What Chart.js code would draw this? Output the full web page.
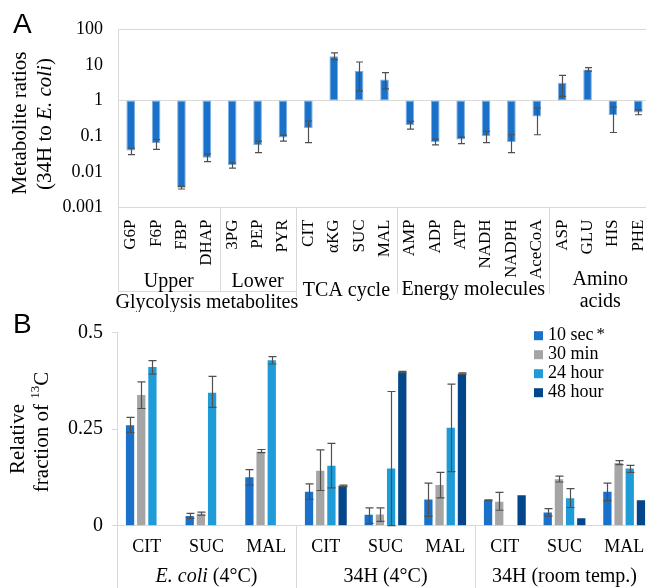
<!DOCTYPE html>
<html><head><meta charset="utf-8">
<script src="https://cdn.jsdelivr.net/npm/chart.js@4"></script>
<style>
html,body{margin:0;padding:0;background:#fff;overflow:hidden;width:646px;height:588px;}
#ca{position:absolute;left:0;top:0;}
#cb{position:absolute;left:0;top:300px;}
</style></head><body>
<canvas id="ca" width="660" height="312"></canvas>
<canvas id="cb" width="660" height="288"></canvas>
<script>
// ---------- Panel A data ----------
const categoriesA = ['G6P','F6P','FBP','DHAP','3PG','PEP','PYR','CIT','αKG','SUC','MAL','AMP','ADP','ATP','NADH','NADPH','AceCoA','ASP','GLU','HIS','PHE'];
const ratiosA   = [0.040, 0.065, 0.0036, 0.025, 0.0155, 0.056, 0.092, 0.17, 17.5, 6.9, 3.9, 0.205, 0.069, 0.081, 0.10, 0.069, 0.36, 3.16, 7.5, 0.39, 0.46];
const errLowA   = [0.0304, 0.043, 0.0033, 0.0193, 0.0128, 0.0347, 0.073, 0.066, 14.1, 1.88, 2.14, 0.159, 0.057, 0.062, 0.066, 0.0347, 0.11, 1.32, 6.7, 0.127, 0.40];
const errHighA  = [0.046, 0.081, 0.0039, 0.032, 0.018, 0.073, 0.107, 0.267, 21.7, 12.1, 6.06, 0.26, 0.083, 0.094, 0.136, 0.11, 0.62, 5.08, 8.4, 0.66, 0.55];
const yTicksA   = [0.001, 0.01, 0.1, 1, 10, 100];
const subGroupsA = [{label:'Upper', from:0, to:3}, {label:'Lower', from:4, to:6}];
const groupsA    = [{label:['Glycolysis metabolites'], from:0, to:6}, {label:['TCA cycle'], from:7, to:10}, {label:['Energy molecules'], from:11, to:16}, {label:['Amino','acids'], from:17, to:20}];

// ---------- Panel B data ----------
const metabolitesB = ['CIT','SUC','MAL'];
const groupsB = ['E. coli (4°C)', '34H (4°C)', '34H (room temp.)'];
const seriesB = ['10 sec', '30 min', '24 hour', '48 hour'];
const yTicksB = [0, 0.25, 0.5];
const sec10  = [0.260, 0.025, 0.125, 0.088, 0.028, 0.068, 0.066, 0.034, 0.088];
const min30  = [0.338, 0.031, 0.191, 0.142, 0.029, 0.105, 0.062, 0.120, 0.162];
const hour24 = [0.410, 0.344, 0.428, 0.155, 0.148, 0.253, null, 0.071, 0.148];
const hour48 = [null, null, null, 0.103, 0.397, 0.393, 0.079, 0.019, 0.066];
const err10  = [[0.241,0.280],[0.019,0.032],[0.105,0.145],[0.068,0.108],[0.006,0.046],[0.024,0.110],[0.065,0.067],[0.025,0.044],[0.065,0.110]];
const err30  = [[0.303,0.372],[0.027,0.035],[0.189,0.197],[0.091,0.196],[0.011,0.046],[0.072,0.138],[0.040,0.086],[0.113,0.128],[0.158,0.168]];
const err24  = [[0.392,0.427],[0.306,0.386],[0.418,0.437],[0.098,0.213],[0,0.347],[0.140,0.366],null,[0.047,0.096],[0.138,0.156]];
const err48  = [null,null,null,[0.101,0.105],[0.395,0.399],[0.391,0.395],null,null,null];

const SERIF = "'Liberation Serif',serif";
const SANS = "'Liberation Sans',sans-serif";
const GRID = '#d9d9d9';
const COLORS = ['#1a71c9', '#a5a5a5', '#1f9cd8', '#03478a'];

function errorBars(sets, cap){
  return {
    id: 'errorBars',
    afterDatasetsDraw(chart){
      const ctx = chart.ctx, y = chart.scales.y;
      ctx.save();
      ctx.strokeStyle = '#505050'; ctx.lineWidth = 1.2;
      chart.data.datasets.forEach((ds, di) => {
        const meta = chart.getDatasetMeta(di);
        meta.data.forEach((bar, i) => {
          const e = sets[di][i];
          if (!e) return;
          const x = Math.round(bar.x) + 0.5;
          const y1 = y.getPixelForValue(e[0]), y2 = y.getPixelForValue(e[1]);
          ctx.beginPath();
          ctx.moveTo(x, y1); ctx.lineTo(x, y2);
          ctx.moveTo(x - cap/2, y1); ctx.lineTo(x + cap/2, y1);
          ctx.moveTo(x - cap/2, y2); ctx.lineTo(x + cap/2, y2);
          ctx.stroke();
        });
      });
      ctx.restore();
    }
  };
}

function line(ctx, x1, y1, x2, y2){ ctx.beginPath(); ctx.moveTo(x1, y1); ctx.lineTo(x2, y2); ctx.stroke(); }
function mixedText(ctx, parts){
  let total = 0;
  parts.forEach(p => { ctx.font = p[1]; total += ctx.measureText(p[0]).width; });
  let cx = -total/2;
  ctx.textAlign = 'left';
  parts.forEach(p => { ctx.font = p[1]; ctx.fillText(p[0], cx, p[2] || 0); cx += ctx.measureText(p[0]).width; });
}

const annotA = {
  id: 'annotA',
  afterDraw(chart){
    const ctx = chart.ctx, x = chart.scales.x, area = chart.chartArea;
    const px = v => Math.round(x.getPixelForValue(v)) + 0.5;
    ctx.save();
    ctx.fillStyle = '#000';
    ctx.font = '17px ' + SERIF;
    categoriesA.forEach((c, i) => {
      ctx.save();
      ctx.translate(x.getPixelForValue(i), area.bottom + 12);
      ctx.rotate(-Math.PI/2);
      ctx.textAlign = 'right'; ctx.textBaseline = 'middle';
      ctx.fillText(c, 0, 0);
      ctx.restore();
    });
    ctx.strokeStyle = GRID; ctx.lineWidth = 1;
    line(ctx, px(-0.5), area.bottom, px(-0.5), 292);
    line(ctx, px(3.5), area.bottom, px(3.5), 292);
    line(ctx, px(6.5), area.bottom, px(6.5), 297);
    line(ctx, px(10.5), area.bottom, px(10.5), 294);
    line(ctx, px(16.5), area.bottom, px(16.5), 294);
    line(ctx, px(-0.5), 291.5, px(6.5), 291.5);
    ctx.font = '20px ' + SERIF; ctx.textAlign = 'center'; ctx.textBaseline = 'alphabetic';
    subGroupsA.forEach(g => ctx.fillText(g.label, (x.getPixelForValue(g.from) + x.getPixelForValue(g.to))/2, 287));
    const gy = [[308], [296], [295], [285, 307]];
    groupsA.forEach((g, k) => {
      const cx = (x.getPixelForValue(g.from) + x.getPixelForValue(g.to))/2;
      g.label.forEach((t, j) => ctx.fillText(t, cx, gy[k][j]));
    });
    ctx.save();
    ctx.translate(20, 123); ctx.rotate(-Math.PI/2); ctx.textBaseline = 'middle';
    mixedText(ctx, [['Metabolite ratios', '21px ' + SERIF]]);
    ctx.restore();
    ctx.save();
    ctx.translate(45, 124); ctx.rotate(-Math.PI/2); ctx.textBaseline = 'middle';
    mixedText(ctx, [['(34H to ', '21px ' + SERIF], ['E. coli', 'italic 21px ' + SERIF], [')', '21px ' + SERIF]]);
    ctx.restore();
    ctx.font = '28px ' + SANS; ctx.textAlign = 'left'; ctx.textBaseline = 'alphabetic';
    ctx.fillText('A', 13, 33);
    ctx.restore();
  }
};

const annotB = {
  id: 'annotB',
  afterDraw(chart){
    const ctx = chart.ctx, x = chart.scales.x, area = chart.chartArea;
    const px = v => Math.round(x.getPixelForValue(v)) + 0.5;
    ctx.save();
    ctx.fillStyle = '#000';
    ctx.strokeStyle = GRID; ctx.lineWidth = 1;
    [-0.5, 2.5, 5.5].forEach(v => line(ctx, px(v), area.bottom, px(v), 288));
    ctx.font = '18px ' + SERIF; ctx.textAlign = 'center'; ctx.textBaseline = 'middle';
    chart.data.labels.forEach((l, i) => ctx.fillText(l, x.getPixelForValue(i), 247));
    groupsB.forEach((g, k) => {
      ctx.save();
      ctx.translate((x.getPixelForValue(k*3) + x.getPixelForValue(k*3 + 2))/2, 277);
      ctx.textBaseline = 'middle';
      if (g.startsWith('E. coli')) mixedText(ctx, [['E. coli', 'italic 20px ' + SERIF], [g.slice(7), '20px ' + SERIF]]);
      else mixedText(ctx, [[g, '20px ' + SERIF]]);
      ctx.restore();
    });
    ctx.textBaseline = 'middle'; ctx.textAlign = 'left'; ctx.font = '18px ' + SERIF;
    chart.data.datasets.forEach((ds, i) => {
      const cy = 35.7 + i * 19;
      ctx.fillStyle = ds.backgroundColor;
      ctx.fillRect(534, cy - 4.5, 9, 9);
      ctx.fillStyle = '#000';
      ctx.fillText(ds.label, 548, cy);
      if (i === 0) {
        const w = ctx.measureText(ds.label).width;
        ctx.font = '17px ' + SERIF; ctx.textBaseline = 'alphabetic';
        ctx.fillText('*', 548 + w + 3, 39);
        ctx.font = '18px ' + SERIF; ctx.textBaseline = 'middle';
      }
    });
    ctx.save();
    ctx.translate(18, 139); ctx.rotate(-Math.PI/2); ctx.textBaseline = 'middle';
    mixedText(ctx, [['Relative', '21px ' + SERIF]]);
    ctx.restore();
    ctx.save();
    ctx.translate(42, 132); ctx.rotate(-Math.PI/2); ctx.textBaseline = 'middle';
    mixedText(ctx, [['fraction of ', '21px ' + SERIF], ['13', '13px ' + SERIF, -6], ['C', '21px ' + SERIF]]);
    ctx.restore();
    ctx.font = '28px ' + SANS; ctx.textAlign = 'left'; ctx.textBaseline = 'alphabetic';
    ctx.fillText('B', 13, 33);
    ctx.restore();
  }
};

function draw(){
  new Chart(document.getElementById('ca'), {
    type: 'bar',
    data: {
      labels: categoriesA,
      datasets: [{
        label: 'Metabolite ratio',
        data: ratiosA.map(v => [1, v]),
        backgroundColor: '#1a71c9',
        borderColor: '#7fb0e4',
        borderWidth: 1,
        borderSkipped: false,
        barPercentage: 0.34,
        categoryPercentage: 1
      }]
    },
    options: {
      responsive: false, animation: false,
      layout: { padding: { top: 29.3, right: 9, left: 0, bottom: 0 } },
      plugins: { legend: { display: false }, tooltip: { enabled: false } },
      scales: {
        x: {
          ticks: { display: false },
          grid: { display: false },
          border: { color: GRID },
          afterFit: s => { s.height = 312 - 207.5; }
        },
        y: {
          type: 'logarithmic', min: 0.001, max: 100,
          afterBuildTicks: s => { s.ticks = yTicksA.map(v => ({ value: v })); },
          ticks: { callback: v => String(v), font: { family: SERIF, size: 18 }, color: '#000', padding: 15 },
          grid: { color: c => (c.tick && (c.tick.value === 1 || c.tick.value === 100)) ? GRID : 'rgba(0,0,0,0)', drawTicks: false },
          border: { color: GRID },
          afterFit: s => { s.width = 118; }
        }
      }
    },
    plugins: [errorBars([errLowA.map((lo, i) => [lo, errHighA[i]])], 7), annotA]
  });

  new Chart(document.getElementById('cb'), {
    type: 'bar',
    data: {
      labels: groupsB.flatMap(() => metabolitesB),
      datasets: [sec10, min30, hour24, hour48].map((d, i) => ({
        label: seriesB[i], data: d, backgroundColor: COLORS[i]
      }))
    },
    options: {
      responsive: false, animation: false,
      datasets: { bar: { barPercentage: 0.74, categoryPercentage: 0.75 } },
      layout: { padding: { top: 32.3, right: 6, left: 0, bottom: 0 } },
      plugins: { legend: { display: false }, tooltip: { enabled: false } },
      scales: {
        x: {
          ticks: { display: false },
          grid: { display: false },
          border: { color: GRID },
          afterFit: s => { s.height = 288 - 225.7; }
        },
        y: {
          min: 0, max: 0.5,
          afterBuildTicks: s => { s.ticks = yTicksB.map(v => ({ value: v })); },
          ticks: { callback: v => String(v), font: { family: SERIF, size: 20 }, color: '#000', padding: 9 },
          grid: { drawOnChartArea: false, tickLength: 5, color: GRID },
          border: { color: GRID },
          afterFit: s => { s.width = 117; }
        }
      }
    },
    plugins: [errorBars([err10, err30, err24, err48], 8), annotB]
  });
}

const fontLoads = ['17px "Liberation Serif"', 'italic 20px "Liberation Serif"', '28px "Liberation Sans"'].map(f => document.fonts.load(f).catch(() => null));
Promise.all(fontLoads).then(draw, draw);
</script>
</body></html>
